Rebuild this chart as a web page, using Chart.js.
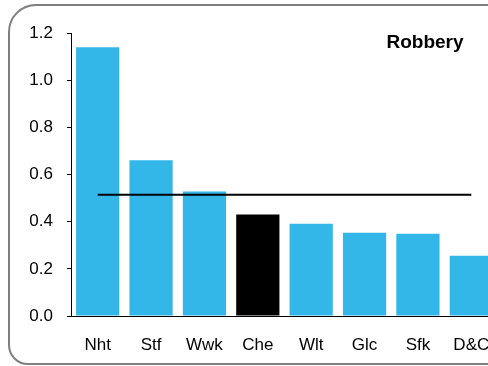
<!DOCTYPE html>
<html>
<head>
<meta charset="utf-8">
<script src="https://cdn.jsdelivr.net/npm/chart.js@4"></script>
<style>
  html, body { margin: 0; padding: 0; overflow: hidden; background: #fff; }
  #frame {
    position: absolute; left: 8px; top: 4px; width: 640px; height: 357px;
    border: 2px solid #7f7f7f; border-radius: 28px 0 0 20px;
  }
  #wrap { position: absolute; left: 0; top: 0; width: 498px; height: 366px; }
</style>
</head>
<body>
<div id="frame"></div>
<div id="wrap"><canvas id="robberyChart" width="498" height="366"></canvas></div>
<script>
const areas = ['Nht', 'Stf', 'Wwk', 'Che', 'Wlt', 'Glc', 'Sfk', 'D&C']
const robberyRates = [1.14, 0.66, 0.528, 0.43, 0.391, 0.353, 0.349, 0.255]
const groupAverage = [0.514, 0.514, 0.514, 0.514, 0.514, 0.514, 0.514, 0.514]
const yTicks = [0, 0.2, 0.4, 0.6, 0.8, 1.0, 1.2]

const BLUE = '#33b7e8'
const HIGHLIGHT = 'Che'

Chart.defaults.font.family = '"Liberation Sans", Arial, sans-serif'
Chart.defaults.font.size = 17
Chart.defaults.color = '#000'

// draws the "Robbery" label inside the top right of the plot
const cornerTitle = {
    id: 'cornerTitle',
    afterDraw(chart) {
        const { ctx, chartArea } = chart
        ctx.save()
        ctx.font = 'bold 19px "Liberation Sans", Arial, sans-serif'
        ctx.fillStyle = '#000'
        ctx.textAlign = 'center'
        ctx.textBaseline = 'middle'
        ctx.fillText('Robbery', 425, chartArea.top + 10)
        ctx.restore()
    }
}

const context = document.getElementById('robberyChart')
const data = {
    labels: areas,
    datasets: [
        {
            type: 'line',
            label: 'Average',
            data: groupAverage,
            borderColor: '#000',
            borderWidth: 2,
            pointRadius: 0,
            order: 0
        },
        {
            type: 'bar',
            label: 'Robbery',
            data: robberyRates,
            backgroundColor: areas.map(a => a === HIGHLIGHT ? '#000' : BLUE),
            barPercentage: 0.81,
            categoryPercentage: 1,
            order: 1
        }
    ]
};
const config = {
    data: data,
    options: {
        responsive: false,
        animation: false,
        layout: { padding: { top: 33, left: 0, right: 0, bottom: 0 } },
        plugins: {
            legend: { display: false },
            tooltip: { enabled: false }
        },
        scales: {
            x: {
                grid: { display: false },
                border: { display: true, color: '#000', width: 1 },
                ticks: { padding: 11, maxRotation: 0 },
                afterFit: scale => {
                    scale.height = 50
                    scale.paddingLeft = 0
                    scale.paddingRight = 0
                }
            },
            y: {
                min: 0,
                max: 1.2,
                afterBuildTicks: scale => { scale.ticks = yTicks.map(v => ({ value: v })) },
                grid: { drawOnChartArea: false, drawTicks: true, tickLength: 4, color: '#000' },
                border: { display: true, color: '#000', width: 1 },
                ticks: { padding: 14, callback: v => v.toFixed(1) },
                afterFit: scale => { scale.width = 71 }
            }
        }
    },
    plugins: [cornerTitle]
};
new Chart(context, config);
</script>
</body>
</html>
